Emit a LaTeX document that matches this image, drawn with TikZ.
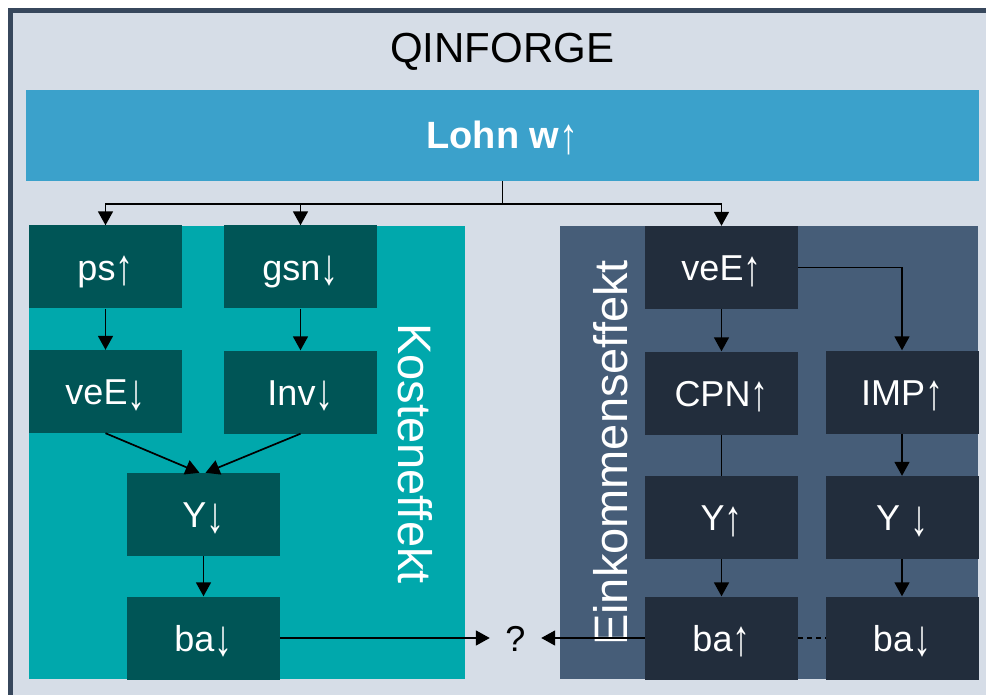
\documentclass[tikz,border=0pt]{standalone}
\usepackage{fontspec}
\usepackage{graphicx}
\setmainfont{Liberation Sans}
\usetikzlibrary{arrows.meta,calc}
\definecolor{bgc}{HTML}{D6DDE7}
\definecolor{framec}{HTML}{37475C}
\definecolor{lohnblue}{HTML}{3BA1CB}
\definecolor{tealreg}{HTML}{00A8AC}
\definecolor{tealdark}{HTML}{005556}
\definecolor{slatereg}{HTML}{465D78}
\definecolor{slatedark}{HTML}{222D3C}
\newcommand{\arrup}{\raisebox{-6.5pt}{\resizebox{\width}{30pt}{\raisebox{\depth}{↑}}}}
\newcommand{\arrdn}{\raisebox{-6.5pt}{\resizebox{\width}{30pt}{\raisebox{\depth}{↓}}}}
\begin{document}
\begin{tikzpicture}[x=1pt,y=-1pt,
  box/.style={minimum width=153pt, minimum height=83pt, inner sep=0pt, text=white,
    font=\fontsize{36}{40}\selectfont, text height=26pt, text depth=0pt},
  tbox/.style={box, fill=tealdark},
  sbox/.style={box, fill=slatedark},
  arr/.style={line width=1.7pt, -{Triangle[width=15pt,length=14pt]}},
  ln/.style={line width=1.7pt},
  vlabel/.style={anchor=base, text=white, font=\fontsize{47}{50}\selectfont}]
\clip (0,0) rectangle (986,695);
\fill[white] (0,0) rectangle (986,695);
\draw[line width=5pt, draw=framec, fill=bgc] (10.5,10.5) rectangle (1010,720);
\node[anchor=base, font=\fontsize{42}{48}\selectfont] (title) at (502,63) {QINFORGE};
\node[fill=lohnblue, minimum width=953pt, minimum height=91pt, inner sep=0pt, text=white,
  font=\bfseries\fontsize{38}{42}\selectfont, text height=27pt, text depth=0pt] (lohn) at (502.5,135.5) {Lohn w\arrup};
% regions
\fill[tealreg] (29,226) rectangle (465,679);
\fill[slatereg] (560,226) rectangle (978,679);
% left boxes
\node[tbox] (ps) at (105.5,267) {ps\arrup};
\node[tbox] (gsn) at (300.5,267) {gsn\arrdn};
\node[tbox] (ved) at (105.5,391.5) {veE\arrdn};
\node[tbox] (inv) at (300.5,392) {Inv\arrdn};
\node[tbox] (y1) at (203.5,514.5) {Y\arrdn};
\node[tbox] (ba1) at (203.5,638) {ba\arrdn};
% right boxes
\node[sbox] (veu) at (721.5,267.5) {veE\arrup};
\node[sbox] (cpn) at (721.5,393) {CPN\arrup};
\node[sbox] (imp) at (902,392) {IMP\arrup};
\node[sbox] (y2) at (721.5,517.5) {Y\arrup};
\node[sbox] (y3) at (902,517.5) {Y \arrdn};
\node[sbox] (ba2) at (721.5,638) {ba\arrup};
\node[sbox] (ba3) at (902,638) {ba\arrdn};
% vertical labels
\node[vlabel, rotate=-90] (kl) at (398,453.5) {Kosteneffekt};
\node[vlabel, rotate=90] (el) at (627,453) {Einkommenseffekt};
% question mark
\node[font=\fontsize{36}{40}\selectfont, inner xsep=15.5pt, inner ysep=0pt, text height=26pt, text depth=0pt] (q) at (515.5,638) {?};
% connectors
\coordinate (split) at ($(lohn.south)+(0,23)$);
\draw[ln] (lohn.south) -- (split);
\draw[arr] (split) -| (ps.north);
\draw[arr] (split) -| (gsn.north);
\draw[arr] (split) -| (veu.north);
\draw[arr] (ps) -- (ved);
\draw[arr] (gsn) -- (inv);
\draw[arr] (ved.south) -- ($(y1.north)+(-4,0)$);
\draw[arr] (inv.south) -- ($(y1.north)+(2,0)$);
\draw[arr] (y1) -- (ba1);
\draw[arr] (ba1.east) -- (q.west);
\draw[arr] (ba2.west) -- (q.east);
\draw[ln, dash pattern=on 5pt off 4pt] (ba2.east) -- (ba3.west);
\draw[arr] (veu.east) -| (imp.north);
\draw[arr] (veu) -- (cpn);
\draw[ln] (cpn) -- (y2);
\draw[arr] (imp) -- (y3);
\draw[arr] (y2) -- (ba2);
\draw[arr] (y3) -- (ba3);
\end{tikzpicture}
\end{document}
